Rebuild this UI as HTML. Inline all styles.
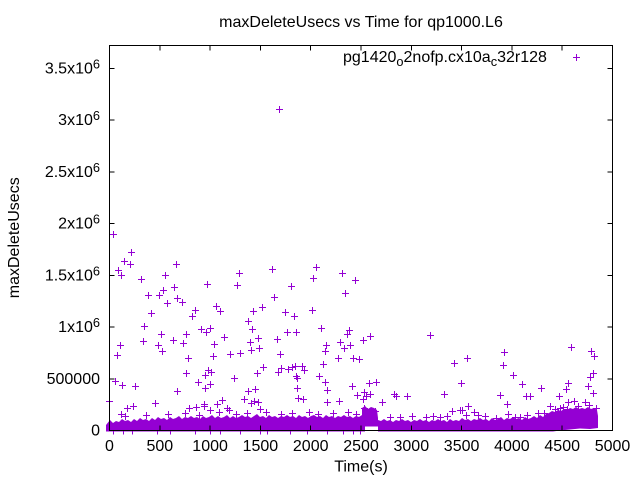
<!DOCTYPE html>
<html><head><meta charset="utf-8"><style>
html,body{margin:0;padding:0;background:#fff;}
svg{display:block;}
text{font-family:"Liberation Sans",Arial,sans-serif;font-size:16px;fill:#000;}
</style></head><body>
<svg width="640" height="480" viewBox="0 0 640 480" xmlns="http://www.w3.org/2000/svg">
<rect width="640" height="480" fill="#fff"/>
<polygon fill="#9400D3" points="106,431.5 106,425 110,420 113,423 116,421 119,422 122,419 125,421 128,420 131,422 134,419 137,421 140,418 143,420 146,419 149,421 152,418 155,420 158,417 161,419 164,418 167,420 170,417 173,419 176,418 179,416 182,419 185,417 188,418 191,416 194,418 197,417 200,419 203,416 206,418 209,417 212,415 215,418 218,416 221,418 224,417 227,415 230,418 233,416 236,418 239,417 242,415 245,417 248,416 251,418 254,416 257,414 260,417 263,416 266,418 269,415 272,417 275,416 278,418 281,416 284,417 287,415 290,417 293,416 296,418 299,415 302,417 305,416 308,418 311,416 314,415 317,417 320,416 323,418 326,415 329,417 332,416 335,418 338,416 341,417 344,415 347,417 350,416 353,418 356,416 359,417 362,415 362,408 365,406 368,409 371,407 374,408 377,410 378,418 378,420 381,421 384,419 387,421 390,420 393,422 396,420 399,421 402,419 405,421 408,420 411,422 414,420 417,421 420,419 423,421 426,420 429,422 432,420 435,421 438,419 441,421 444,420 447,422 450,419 453,421 456,420 459,421 462,418 465,420 468,419 471,421 474,419 477,420 480,418 483,420 486,419 489,421 492,418 495,420 498,419 501,417 504,420 507,418 510,419 513,417 516,419 519,418 522,420 525,417 528,419 531,418 534,416 537,418 540,415 543,417 546,414 549,413 552,411 555,412 558,410 561,411 564,409 567,410 570,408 573,409 576,407 579,409 582,408 585,409 588,407 591,409 594,408 597,410 598,416 598,428 590,429 580,428.5 570,429.5 560,430.5 553,431.5 378,431.5 378,426.5 365,426.5 365,431.5"/>
<path fill="none" stroke="#9400D3" stroke-width="1" d="M276 109.5h7m-3.5-3.5v7M110 234.5h7m-3.5-3.5v7M128 252.5h7m-3.5-3.5v7M121 261.5h7m-3.5-3.5v7M127 264.5h7m-3.5-3.5v7M115 270.5h7m-3.5-3.5v7M118 275.5h7m-3.5-3.5v7M173 264.5h7m-3.5-3.5v7M162 275.5h7m-3.5-3.5v7M138 279.5h7m-3.5-3.5v7M236 273.5h7m-3.5-3.5v7M204 284.5h7m-3.5-3.5v7M234 285.5h7m-3.5-3.5v7M171 287.5h7m-3.5-3.5v7M160 290.5h7m-3.5-3.5v7M145 295.5h7m-3.5-3.5v7M156 295.5h7m-3.5-3.5v7M174 298.5h7m-3.5-3.5v7M179 302.5h7m-3.5-3.5v7M164 303.5h7m-3.5-3.5v7M148 313.5h7m-3.5-3.5v7M213 306.5h7m-3.5-3.5v7M217 311.5h7m-3.5-3.5v7M192 310.5h7m-3.5-3.5v7M189 316.5h7m-3.5-3.5v7M250 311.5h7m-3.5-3.5v7M141 326.5h7m-3.5-3.5v7M198 329.5h7m-3.5-3.5v7M203 332.5h7m-3.5-3.5v7M207 328.5h7m-3.5-3.5v7M245 321.5h7m-3.5-3.5v7M249 329.5h7m-3.5-3.5v7M158 334.5h7m-3.5-3.5v7M183 334.5h7m-3.5-3.5v7M221 337.5h7m-3.5-3.5v7M255 338.5h7m-3.5-3.5v7
M117 345.5h7m-3.5-3.5v7M140 341.5h7m-3.5-3.5v7M155 345.5h7m-3.5-3.5v7M159 351.5h7m-3.5-3.5v7M170 340.5h7m-3.5-3.5v7M180 343.5h7m-3.5-3.5v7M114 355.5h7m-3.5-3.5v7M185 358.5h7m-3.5-3.5v7M211 344.5h7m-3.5-3.5v7M210 356.5h7m-3.5-3.5v7M227 354.5h7m-3.5-3.5v7M237 353.5h7m-3.5-3.5v7M247 342.5h7m-3.5-3.5v7M248 350.5h7m-3.5-3.5v7M256 348.5h7m-3.5-3.5v7M260 367.5h7m-3.5-3.5v7M254 373.5h7m-3.5-3.5v7M277 354.5h7m-3.5-3.5v7M275 372.5h7m-3.5-3.5v7M278 368.5h7m-3.5-3.5v7M285 369.5h7m-3.5-3.5v7M289 367.5h7m-3.5-3.5v7M292 366.5h7m-3.5-3.5v7M299 366.5h7m-3.5-3.5v7M301 370.5h7m-3.5-3.5v7M293 376.5h7m-3.5-3.5v7M294 378.5h7m-3.5-3.5v7M294 388.5h7m-3.5-3.5v7M295 398.5h7m-3.5-3.5v7M300 399.5h7m-3.5-3.5v7M316 376.5h7m-3.5-3.5v7M320 364.5h7m-3.5-3.5v7M323 345.5h7m-3.5-3.5v7M322 351.5h7m-3.5-3.5v7M322 382.5h7m-3.5-3.5v7M324 390.5h7m-3.5-3.5v7M324 402.5h7m-3.5-3.5v7M336 401.5h7m-3.5-3.5v7M337 342.5h7m-3.5-3.5v7M341 348.5h7m-3.5-3.5v7M347 345.5h7m-3.5-3.5v7M335 358.5h7m-3.5-3.5v7M350 358.5h7m-3.5-3.5v7M349 386.5h7m-3.5-3.5v7M354 395.5h7m-3.5-3.5v7
M106 401.5h7m-3.5-3.5v7M112 381.5h7m-3.5-3.5v7M119 385.5h7m-3.5-3.5v7M132 386.5h7m-3.5-3.5v7M174 391.5h7m-3.5-3.5v7M183 373.5h7m-3.5-3.5v7M195 382.5h7m-3.5-3.5v7M202 375.5h7m-3.5-3.5v7M205 370.5h7m-3.5-3.5v7M208 372.5h7m-3.5-3.5v7M202 388.5h7m-3.5-3.5v7M207 384.5h7m-3.5-3.5v7M231 378.5h7m-3.5-3.5v7M245 391.5h7m-3.5-3.5v7M252 389.5h7m-3.5-3.5v7M241 399.5h7m-3.5-3.5v7M248 403.5h7m-3.5-3.5v7M251 401.5h7m-3.5-3.5v7M255 402.5h7m-3.5-3.5v7M152 403.5h7m-3.5-3.5v7M124 408.5h7m-3.5-3.5v7M130 406.5h7m-3.5-3.5v7M186 408.5h7m-3.5-3.5v7M193 407.5h7m-3.5-3.5v7M201 404.5h7m-3.5-3.5v7M201 406.5h7m-3.5-3.5v7M207 410.5h7m-3.5-3.5v7M214 404.5h7m-3.5-3.5v7M219 400.5h7m-3.5-3.5v7M224 408.5h7m-3.5-3.5v7M226 410.5h7m-3.5-3.5v7M257 409.5h7m-3.5-3.5v7M118 414.5h7m-3.5-3.5v7
M269 269.5h7m-3.5-3.5v7M313 267.5h7m-3.5-3.5v7M310 278.5h7m-3.5-3.5v7M339 273.5h7m-3.5-3.5v7M352 280.5h7m-3.5-3.5v7M288 286.5h7m-3.5-3.5v7M342 293.5h7m-3.5-3.5v7M271 297.5h7m-3.5-3.5v7M259 307.5h7m-3.5-3.5v7M282 312.5h7m-3.5-3.5v7M291 316.5h7m-3.5-3.5v7M309 310.5h7m-3.5-3.5v7M318 328.5h7m-3.5-3.5v7M284 332.5h7m-3.5-3.5v7M293 332.5h7m-3.5-3.5v7M274 339.5h7m-3.5-3.5v7M346 330.5h7m-3.5-3.5v7M344 334.5h7m-3.5-3.5v7M367 336.5h7m-3.5-3.5v7
M360 340.5h7m-3.5-3.5v7M356 359.5h7m-3.5-3.5v7M451 363.5h7m-3.5-3.5v7M464 358.5h7m-3.5-3.5v7M501 352.5h7m-3.5-3.5v7M500 365.5h7m-3.5-3.5v7M510 375.5h7m-3.5-3.5v7M519 384.5h7m-3.5-3.5v7M568 347.5h7m-3.5-3.5v7M588 351.5h7m-3.5-3.5v7M591 356.5h7m-3.5-3.5v7M590 373.5h7m-3.5-3.5v7M587 377.5h7m-3.5-3.5v7M585 386.5h7m-3.5-3.5v7M590 393.5h7m-3.5-3.5v7M565 383.5h7m-3.5-3.5v7M563 389.5h7m-3.5-3.5v7M538 388.5h7m-3.5-3.5v7M523 396.5h7m-3.5-3.5v7M527 396.5h7m-3.5-3.5v7M556 396.5h7m-3.5-3.5v7M497 395.5h7m-3.5-3.5v7M504 404.5h7m-3.5-3.5v7M458 383.5h7m-3.5-3.5v7M441 394.5h7m-3.5-3.5v7M366 383.5h7m-3.5-3.5v7M373 382.5h7m-3.5-3.5v7M361 392.5h7m-3.5-3.5v7M363 396.5h7m-3.5-3.5v7M367 394.5h7m-3.5-3.5v7M360 399.5h7m-3.5-3.5v7M379 402.5h7m-3.5-3.5v7M391 394.5h7m-3.5-3.5v7M393 396.5h7m-3.5-3.5v7M404 396.5h7m-3.5-3.5v7M465 406.5h7m-3.5-3.5v7M449 411.5h7m-3.5-3.5v7M457 410.5h7m-3.5-3.5v7M459 410.5h7m-3.5-3.5v7M471 412.5h7m-3.5-3.5v7M547 406.5h7m-3.5-3.5v7M565 402.5h7m-3.5-3.5v7M571 401.5h7m-3.5-3.5v7M582 402.5h7m-3.5-3.5v7M583 411.5h7m-3.5-3.5v7M555 411.5h7m-3.5-3.5v7M557 408.5h7m-3.5-3.5v7M541 413.5h7m-3.5-3.5v7M361 408.5h7m-3.5-3.5v7M397 417.5h7m-3.5-3.5v7M564 409.5h7m-3.5-3.5v7M475 415.5h7m-3.5-3.5v7M493 418.5h7m-3.5-3.5v7M512 417.5h7m-3.5-3.5v7M517 417.5h7m-3.5-3.5v7M423 417.5h7m-3.5-3.5v7M437 417.5h7m-3.5-3.5v7M372 411.5h7m-3.5-3.5v7M427 335.5h7m-3.5-3.5v7
M122 416.5h7m-3.5-3.5v7M143 415.5h7m-3.5-3.5v7M165 414.5h7m-3.5-3.5v7M182 413.5h7m-3.5-3.5v7M196 415.5h7m-3.5-3.5v7M216 412.5h7m-3.5-3.5v7M233 414.5h7m-3.5-3.5v7M244 413.5h7m-3.5-3.5v7M263 412.5h7m-3.5-3.5v7M278 414.5h7m-3.5-3.5v7M289 413.5h7m-3.5-3.5v7M306 412.5h7m-3.5-3.5v7M315 414.5h7m-3.5-3.5v7M330 413.5h7m-3.5-3.5v7M345 412.5h7m-3.5-3.5v7M353 414.5h7m-3.5-3.5v7M387 417.5h7m-3.5-3.5v7M409 416.5h7m-3.5-3.5v7M430 416.5h7m-3.5-3.5v7M444 416.5h7m-3.5-3.5v7M463 415.5h7m-3.5-3.5v7M482 416.5h7m-3.5-3.5v7M505 414.5h7m-3.5-3.5v7M524 415.5h7m-3.5-3.5v7M535 413.5h7m-3.5-3.5v7M552 409.5h7m-3.5-3.5v7M560 407.5h7m-3.5-3.5v7M575 406.5h7m-3.5-3.5v7M586 405.5h7m-3.5-3.5v7M593 408.5h7m-3.5-3.5v7
M113.5 427v7.5M123.5 427v7.5M132.5 427v7.5M157.5 427v7.5M170.5 427v7.5M195.5 427v7.5M210.5 427v7.5M220.5 427v7.5M240.5 427v7.5M260.5 427v7.5M267.5 427v7.5M290.5 427v7.5M307.5 427v7.5M327.5 427v7.5M343.5 427v7.5M353.5 427v7.5M360.5 427v7.5"/>
<g stroke="#000" stroke-width="1" fill="none" shape-rendering="crispEdges">
<rect x="109.5" y="45.5" width="503" height="385"/>
<path d="M109.5 378.77h5M109.5 327.04h5M109.5 275.31h5M109.5 223.58h5M109.5 171.85h5M109.5 120.12h5M109.5 68.39h5
M612.5 378.77h-5M612.5 327.04h-5M612.5 275.31h-5M612.5 223.58h-5M612.5 171.85h-5M612.5 120.12h-5M612.5 68.39h-5
M159.8 430.5v-5M210.1 430.5v-5M260.4 430.5v-5M310.7 430.5v-5M361 430.5v-5M411.3 430.5v-5M461.6 430.5v-5M511.9 430.5v-5M562.2 430.5v-5
M159.8 45.5v5M210.1 45.5v5M260.4 45.5v5M310.7 45.5v5M361 45.5v5M411.3 45.5v5M461.6 45.5v5M511.9 45.5v5M562.2 45.5v5"/>
</g>
<text x="361" y="27" text-anchor="middle">maxDeleteUsecs vs Time for qp1000.L6</text>
<g text-anchor="end">
<text x="100" y="435.5">0</text>
<text x="100" y="383.8">500000</text>
<text x="100" y="332">1x10<tspan font-size="12.8" dy="-5">6</tspan></text>
<text x="100" y="280.3">1.5x10<tspan font-size="12.8" dy="-5">6</tspan></text>
<text x="100" y="228.6">2x10<tspan font-size="12.8" dy="-5">6</tspan></text>
<text x="100" y="176.9">2.5x10<tspan font-size="12.8" dy="-5">6</tspan></text>
<text x="100" y="125.1">3x10<tspan font-size="12.8" dy="-5">6</tspan></text>
<text x="100" y="73.4">3.5x10<tspan font-size="12.8" dy="-5">6</tspan></text>
</g>
<g text-anchor="middle">
<text x="109.5" y="451">0</text>
<text x="159.8" y="451">500</text>
<text x="210.1" y="451">1000</text>
<text x="260.4" y="451">1500</text>
<text x="310.7" y="451">2000</text>
<text x="361" y="451">2500</text>
<text x="411.3" y="451">3000</text>
<text x="461.6" y="451">3500</text>
<text x="511.9" y="451">4000</text>
<text x="562.2" y="451">4500</text>
<text x="612.5" y="451">5000</text>
</g>
<text x="361" y="471.5" text-anchor="middle">Time(s)</text>
<text transform="translate(19,237.75) rotate(-90)" text-anchor="middle">maxDeleteUsecs</text>
<text x="343" y="62">pg1420<tspan font-size="12.8" dy="4">o</tspan><tspan dy="-4">2nofp.cx10a</tspan><tspan font-size="12.8" dy="4">c</tspan><tspan dy="-4">32r128</tspan></text>
<path d="M573 57.5h7M576.5 54v7" stroke="#9400D3" stroke-width="1" fill="none"/>
</svg>
</body></html>
